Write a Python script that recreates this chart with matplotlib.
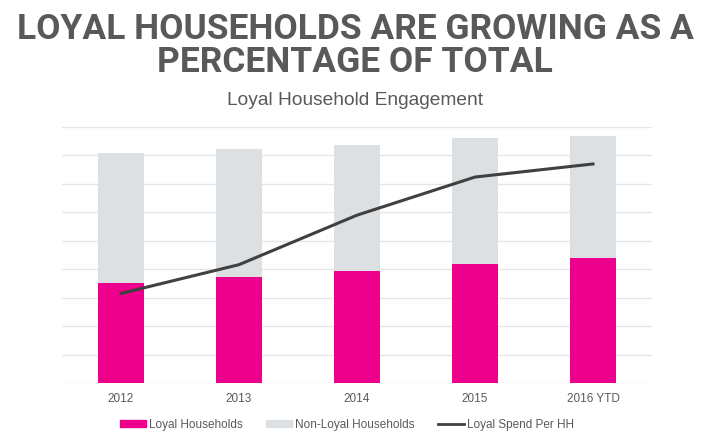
import matplotlib
matplotlib.use("Agg")
import matplotlib.pyplot as plt
from matplotlib.patches import Patch
from matplotlib.lines import Line2D

plt.rcParams['font.family'] = ['Liberation Sans', 'DejaVu Sans']

# values (in gridline units)
years = ["2012", "2013", "2014", "2015", "2016 YTD"]
loyal = [3.53, 3.73, 3.95, 4.20, 4.39]
total = [8.07, 8.21, 8.37, 8.61, 8.70]
non_loyal = [t - l for t, l in zip(total, loyal)]
spend_per_hh = [3.15, 4.16, 5.90, 7.24, 7.70]

magenta = "#EC008C"
light_gray = "#DCE0E2"
line_col = "#404040"
text_col = "#595959"

fig = plt.figure(figsize=(7.1, 4.4), dpi=100)
ax = fig.add_axes([0.0873, 0.1295, 0.8310, 0.5819])

x = range(len(years))
ax.bar(x, loyal, width=0.39, color=magenta, zorder=2)
ax.bar(x, non_loyal, width=0.39, bottom=loyal, color=light_gray, zorder=2)
ax.plot(x, spend_per_hh, color=line_col, lw=2.2, zorder=3)

ax.set_xlim(-0.5, 4.5)
ax.set_ylim(0, 9)
ax.set_yticks(range(10))
ax.yaxis.grid(True, color="#E6E6E6", lw=1)
ax.set_axisbelow(True)
ax.tick_params(axis="y", left=False, labelleft=False)
ax.tick_params(axis="x", length=0, pad=7, labelsize=8.5, labelcolor=text_col)
ax.set_xticks(list(x))
ax.set_xticklabels(years)
for s in ax.spines.values():
    s.set_visible(False)

title_font = ['Roboto', 'Liberation Sans', 'DejaVu Sans']
fig.text(0.5, 0.934, "LOYAL HOUSEHOLDS ARE GROWING AS A", ha="center", va="center",
         fontsize=25.5, fontweight="bold", color=text_col, family=title_font)
fig.text(0.5, 0.857, "PERCENTAGE OF TOTAL", ha="center", va="center",
         fontsize=25.5, fontweight="bold", color=text_col, family=title_font)
fig.text(0.5, 0.772, "Loyal Household Engagement", ha="center", va="center",
         fontsize=13.8, color=text_col)

handles = [Patch(color=magenta), Patch(color=light_gray),
           Line2D([], [], color=line_col, lw=2.0)]
labels = ["Loyal Households", "Non-Loyal Households", "Loyal Spend Per HH"]
fig.legend(handles, labels, loc="center", bbox_to_anchor=(0.489, 0.034), ncol=3,
           frameon=False, fontsize=8.5, labelcolor=text_col, handlelength=2.2,
           handleheight=0.55, handletextpad=0.25, columnspacing=2.0)

fig.savefig("out.png", dpi=100, facecolor="white")
